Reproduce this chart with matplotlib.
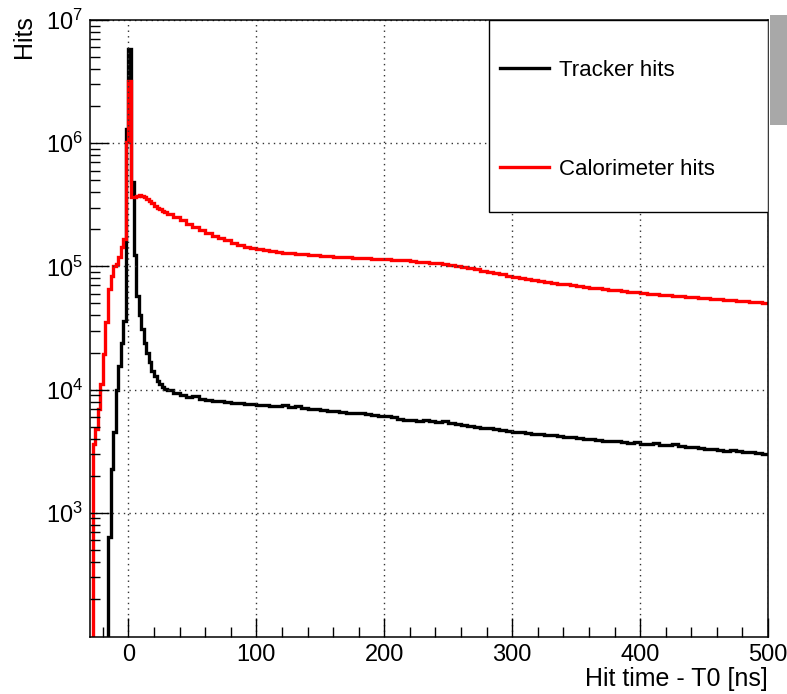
import numpy as np
import matplotlib
matplotlib.use("Agg")
import matplotlib.pyplot as plt
from matplotlib import rc
from matplotlib.patches import Rectangle
from matplotlib.ticker import FixedLocator, LogLocator, LogFormatterMathtext, NullFormatter

plt.rcParams.update({"font.family": "Liberation Sans"})
rc('mathtext', default='regular')

# bin edges: 2 ns bins around the prompt peak, 5 ns bins in the tail
fine_edges = np.arange(-30, 32, 2)
tail_edges = np.arange(35, 505, 5)
edges = np.concatenate([fine_edges, tail_edges])

# tracker hits, fine bins (-30 .. 30 ns)
tracker_fine = [1, 1, 1, 1, 1, 1, 1, 630, 2250, 4500,
                10000, 15500, 24000, 36000, 1.3e6, 5.8e6, 4.8e5, 1.23e5, 58000, 40000,
                31000, 24000, 20000, 16600, 14100, 12900, 11700, 11000, 10500, 10200]
# tracker hits, tail bins (30 .. 500 ns)
tracker_tail = [9900, 9400, 9000, 8700, 8900, 8450, 8300, 8150, 8050, 8000,
                7850, 7800, 7650, 7700, 7500, 7550, 7400, 7350, 7450, 7250,
                7300, 7100, 7000, 6950, 6800, 6750, 6650, 6600, 6500, 6450,
                6400, 6300, 6200, 6150, 6050, 5950, 5800, 5650, 5700, 5600,
                5650, 5550, 5500, 5550, 5400, 5300, 5150, 5050, 4950, 4900,
                4850, 4750, 4700, 4650, 4550, 4500, 4450, 4400, 4350, 4300,
                4250, 4200, 4100, 4150, 4050, 4000, 3950, 3900, 3850, 3800,
                3820, 3750, 3700, 3720, 3650, 3600, 3680, 3580, 3560, 3600,
                3500, 3450, 3400, 3350, 3280, 3320, 3250, 3200, 3220, 3150,
                3100, 3120, 3050, 3000]

# calorimeter hits
calo_fine = [1, 3600, 4800, 7000, 11000, 19500, 35500, 66000, 84000, 100000,
             105000, 119000, 143000, 168000, 1.03e6, 3.2e6, 367000, 365000, 372000, 378000,
             376000, 365000, 352000, 340000, 325000, 310000, 300000, 292000, 284000, 276000]
calo_tail = [268000, 252000, 237000, 222000, 208000, 197000, 187000, 178000, 170000, 163000,
             156000, 150000, 145000, 141000, 138000, 135500, 133000, 131000, 129500, 128000,
             126500, 125000, 124000, 123000, 122000, 121000, 120200, 119400, 118600, 117800,
             117000, 116400, 115800, 115200, 114500, 113600, 112700, 111800, 110800, 109600,
             108300, 107000, 105600, 104200, 102700, 101000, 99000, 96800, 94500, 92300,
             90000, 88000, 86000, 84200, 82500, 80800, 79300, 77900, 76500, 75200,
             73900, 72600, 71400, 70300, 69200, 68200, 67300, 66400, 65500, 64700,
             63900, 63100, 62300, 61600, 60900, 60200, 59600, 59000, 58400, 57800,
             57200, 56600, 56100, 55600, 55100, 54600, 54100, 53600, 53100, 52600,
             52100, 51600, 51100, 50700]

tracker = np.array(tracker_fine + tracker_tail)
calo = np.array(calo_fine + calo_tail)

fig = plt.figure(figsize=(7.87, 6.94), dpi=100)
ax = fig.add_axes([0.1144, 0.0821, 0.8615, 0.8890])

ax.stairs(tracker, edges, color="black", linewidth=2.4, baseline=None, label="Tracker hits")
ax.stairs(calo, edges, color="#ff0000", linewidth=2.4, baseline=None, label="Calorimeter hits")

ax.set_yscale("log")
ax.set_xlim(-30, 500)
ax.set_ylim(98, 1e7)

ax.yaxis.set_major_locator(FixedLocator([1e3, 1e4, 1e5, 1e6, 1e7]))
ax.yaxis.set_major_formatter(LogFormatterMathtext())
ax.yaxis.set_minor_locator(LogLocator(base=10, subs=np.arange(2, 10)))
ax.yaxis.set_minor_formatter(NullFormatter())
ax.set_xticks([0, 100, 200, 300, 400, 500])
ax.set_xticks(np.arange(-20, 500, 20), minor=True)

ax.tick_params(which="both", direction="in", top=False, right=False, width=1)
ax.tick_params(which="major", length=14, labelsize=17, pad=5)
ax.tick_params(which="minor", length=7)
for s in ax.spines.values():
    s.set_linewidth(1.1)

ax.grid(True, which="major", color="#333333", linestyle=(0, (1, 3)), linewidth=1.0)

ax.set_xlabel("Hit time - T0 [ns]", fontsize=18, loc="right")
ax.xaxis.set_label_coords(1.0, -0.048)
ax.set_ylabel("Hits", fontsize=18, loc="top")
ax.yaxis.set_label_coords(-0.079, 1.008)

# legend box (ROOT TLegend style): white box with thin border, entries inside
ax.add_patch(Rectangle((0.5885, 0.689), 0.4115, 0.311, transform=ax.transAxes,
                       facecolor="white", edgecolor="black", linewidth=1.0, zorder=4))
leg = ax.legend(loc="upper left", bbox_to_anchor=(0.5885, 0.953),
                fontsize=16, frameon=False, handlelength=2.2,
                handletextpad=0.45, labelspacing=3.5, borderpad=0.5,
                borderaxespad=0)
leg.set_zorder(5)

# grey strip at the right edge of the canvas
fig.patches.append(Rectangle((0.978, 0.82), 0.022, 0.159, transform=fig.transFigure,
                             facecolor="#a8a8a8", edgecolor="none"))

fig.savefig("out.png", dpi=100)
